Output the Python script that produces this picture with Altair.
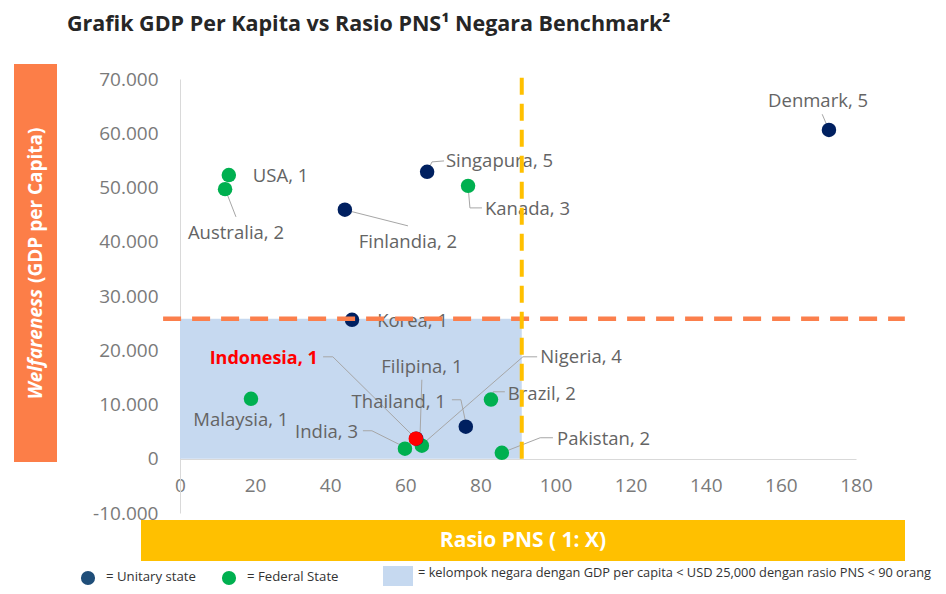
import altair as alt
import pandas as pd

# ---------------- data ----------------
countries = ["Denmark", "Singapura", "Kanada", "USA", "Australia", "Finlandia", "Korea",
             "Malaysia", "Brazil", "Thailand", "Pakistan", "India", "Nigeria", "Filipina", "Indonesia"]
rasio_pns = [172.8, 65.8, 76.7, 13.0, 12.0, 43.9, 45.8, 18.9, 82.8, 76.1, 85.7, 59.9, 64.4, 62.9, 62.8]
gdp_per_capita = [60600, 52900, 50300, 52300, 49700, 45900, 25600, 11050, 10900, 5900, 1100,
                  1850, 2400, 3700, 3700]
state_type = ["Unitary", "Unitary", "Federal", "Federal", "Federal", "Unitary", "Unitary",
              "Federal", "Federal", "Unitary", "Federal", "Federal", "Federal", "Unitary", "Unitary"]
group_no = [5, 5, 3, 1, 2, 2, 1, 1, 2, 1, 2, 3, 4, 1, 1]

# label anchor positions (data units) and alignment
label_x = [169.9, 70.8, 81.2, 19.4, 14.9, 60.7, 52.5, 16.2, 87.3, 70.8, 100.4, 47.4, 95.9, 64.4, 36.7]
label_y = [65960, 54900, 46060, 52140, 41640, 39980, 25430, 7190, 11980, 10500, 3685, 4975,
           18790, 16950, 18425]
label_align = ["center", "left", "left", "left", "center", "center", "left", "center", "left",
               "right", "left", "right", "left", "center", "right"]

# leader lines (data units)
leader_name = ["Denmark", "Denmark",
               "Singapura", "Singapura", "Singapura",
               "Kanada", "Kanada", "Kanada",
               "Australia", "Australia",
               "Finlandia", "Finlandia",
               "Indonesia", "Indonesia", "Indonesia",
               "Filipina", "Filipina",
               "Nigeria", "Nigeria", "Nigeria",
               "Thailand", "Thailand", "Thailand",
               "Brazil", "Brazil", "Brazil",
               "India", "India", "India",
               "Pakistan", "Pakistan", "Pakistan"]
leader_x = [171.0, 172.6,
            65.8, 67.1, 70.3,
            76.7, 77.2, 80.4,
            12.0, 14.9,
            43.9, 60.7,
            38.1, 40.7, 62.8,
            64.4, 63.9,
            95.1, 91.3, 64.7,
            72.4, 74.8, 76.2,
            86.5, 83.4, 82.8,
            48.7, 51.1, 59.1,
            99.3, 95.9, 85.7]
leader_y = [63500, 60900,
            52880, 54720, 54900,
            50300, 46240, 46240,
            49750, 44590,
            45880, 42930,
            18790, 18790, 3700,
            14560, 3870,
            18790, 18790, 2760,
            10870, 10870, 6265,
            12345, 12345, 10870,
            5160, 5160, 2395,
            3870, 3870, 1105]

x_ticks = [0, 20, 40, 60, 80, 100, 120, 140, 160, 180]
y_ticks = [-10000, 0, 10000, 20000, 30000, 40000, 50000, 60000, 70000]

threshold_gdp = 25800
threshold_pns = 91

title_text = "Grafik GDP Per Kapita vs Rasio PNS\u00b9 Negara Benchmark\u00b2"
y_title_a = "Welfareness"
y_title_b = "(GDP per Capita)"
x_title = "Rasio PNS ( 1: X)"
legend_unitary = "= Unitary state"
legend_federal = "= Federal State"
legend_box = "= kelompok negara dengan GDP per capita < USD 25,000 dengan rasio PNS < 90 orang"

# ---------------- tables ----------------
pts = pd.DataFrame({
    "country": countries, "x": rasio_pns, "y": gdp_per_capita,
    "ckey": ["Indonesia" if c == "Indonesia" else s for c, s in zip(countries, state_type)],
})
labs = pd.DataFrame({
    "label": [f"{c}, {n}" for c, n in zip(countries, group_no)],
    "country": countries, "lx": label_x, "ly": label_y, "align": label_align,
})
seq = []
cnt = {}
for n in leader_name:
    cnt[n] = cnt.get(n, 0) + 1
    seq.append(cnt[n])
leaders = pd.DataFrame({"country": leader_name, "x": leader_x, "y": leader_y, "seq": seq})

zone = pd.DataFrame({"x": [0], "x2": [threshold_pns], "y": [0], "y2": [threshold_gdp]})
hline = pd.DataFrame({"x": [-4.5], "x2": [193], "y": [threshold_gdp]})
vline = pd.DataFrame({"x": [threshold_pns], "y": [0], "y2": [71300]})
one = pd.DataFrame({"a": [0]})

FONT = "Open Sans"
NAVY = "#002060"
GREEN = "#00b050"
RED = "#ff0000"
GRAY = "#646464"

xscale = alt.Scale(domain=[0, 180], nice=False, zero=False)
yscale = alt.Scale(domain=[-10000, 70000], nice=False, zero=False)
xaxis = alt.Axis(values=x_ticks, title=None, grid=False, ticks=False, tickSize=0,
                 labelPadding=26, labelBaseline="middle", labelFont=FONT, labelFontSize=19,
                 labelColor="#7a7a7a", domainColor="#d9d9d9", domainWidth=1, offset=-54,
                 labelFlush=False, labelOverlap=False)
yaxis = alt.Axis(values=y_ticks, title=None, grid=False, ticks=False, tickSize=0,
                 labelPadding=22, labelFont=FONT, labelFontSize=19, labelColor="#7a7a7a",
                 domainColor="#d9d9d9", domainWidth=1, labelFlush=False, labelOverlap=False,
                 labelExpr="replace(replace(format(datum.value, ','), ',', '.'), '\u2212', '-')")


def X(f):
    return alt.X(f"{f}:Q", scale=xscale, axis=xaxis)


def Y(f):
    return alt.Y(f"{f}:Q", scale=yscale, axis=yaxis)


zone_l = alt.Chart(zone).mark_rect(color="#c6d9f0").encode(
    x=X("x"), x2="x2", y=Y("y"), y2="y2")

lead_l = alt.Chart(leaders).mark_line(color="#a6a6a6", strokeWidth=1).encode(
    x=X("x"), y=Y("y"), detail="country:N", order=alt.Order("seq:Q"))

pts_l = alt.Chart(pts).mark_circle(size=210, opacity=1).encode(
    x=X("x"), y=Y("y"),
    color=alt.Color("ckey:N", scale=alt.Scale(domain=["Unitary", "Federal", "Indonesia"],
                                              range=[NAVY, GREEN, RED]), legend=None))


def label_layer(align, cond, **kw):
    return alt.Chart(labs).transform_filter(cond).mark_text(
        align=align, baseline="middle", font=FONT, fontSize=kw.get("size", 18.5),
        fontWeight=kw.get("weight", "normal"), color=kw.get("color", GRAY)).encode(
        x=X("lx"), y=Y("ly"), text="label:N")


lab_left = label_layer("left", "datum.align == 'left' && datum.country != 'Indonesia'")
lab_center = label_layer("center", "datum.align == 'center' && datum.country != 'Indonesia'")
lab_right = label_layer("right", "datum.align == 'right' && datum.country != 'Indonesia'")
lab_indo = label_layer("right", "datum.country == 'Indonesia'", weight="bold", color=RED, size=18)

hline_l = alt.Chart(hline).mark_rule(color="#fb7f4c", strokeWidth=4.5, strokeDash=[18, 11]).encode(
    x=X("x"), x2="x2", y=Y("y"))
vline_l = alt.Chart(vline).mark_rule(color="#ffc000", strokeWidth=4, strokeDash=[17, 9]).encode(
    x=X("x"), y=Y("y"), y2="y2")

# ---- decorations (title, axis-title boxes, legend) ----
title_l = alt.Chart(one).mark_text(align="left", baseline="middle", font=FONT, fontSize=21.5,
                                   fontWeight="bold", color="#262626").encode(
    x=alt.value(-113), y=alt.value(-54), text=alt.value(title_text))

ybox = alt.Chart(one).mark_rect(color="#fc7e48").encode(
    x=alt.value(-166), x2=alt.value(-123), y=alt.value(-15), y2=alt.value(383))
ytitle_a = alt.Chart(one).mark_text(angle=270, align="right", baseline="middle", font=FONT,
                                    fontSize=19, fontWeight="bold", fontStyle="italic",
                                    color="white").encode(
    x=alt.value(-144), y=alt.value(210), text=alt.value(y_title_a))
ytitle_b = alt.Chart(one).mark_text(angle=270, align="left", baseline="middle", font=FONT,
                                    fontSize=19, fontWeight="bold", color="white").encode(
    x=alt.value(-144), y=alt.value(204), text=alt.value(y_title_b))

xbox = alt.Chart(one).mark_rect(color="#ffc000").encode(
    x=alt.value(-39), x2=alt.value(725), y=alt.value(441), y2=alt.value(482))
xtitle = alt.Chart(one).mark_text(align="center", baseline="middle", font=FONT, fontSize=21,
                                  fontWeight="bold", color="white").encode(
    x=alt.value(343), y=alt.value(462), text=alt.value(x_title))

leg_navy = alt.Chart(one).mark_circle(size=200, opacity=1, color="#1f4e79").encode(
    x=alt.value(-92), y=alt.value(499))
leg_green = alt.Chart(one).mark_circle(size=200, opacity=1, color=GREEN).encode(
    x=alt.value(49), y=alt.value(499))
leg_t1 = alt.Chart(one).mark_text(align="left", baseline="middle", font=FONT, fontSize=13.2,
                                  color="#333333").encode(
    x=alt.value(-74), y=alt.value(498), text=alt.value(legend_unitary))
leg_t2 = alt.Chart(one).mark_text(align="left", baseline="middle", font=FONT, fontSize=13.2,
                                  color="#333333").encode(
    x=alt.value(67), y=alt.value(498), text=alt.value(legend_federal))
leg_box = alt.Chart(one).mark_rect(color="#c6d9f0").encode(
    x=alt.value(203), x2=alt.value(233), y=alt.value(487), y2=alt.value(507))
leg_t3 = alt.Chart(one).mark_text(align="left", baseline="middle", font=FONT, fontSize=12.8,
                                  color="#333333").encode(
    x=alt.value(238), y=alt.value(494), text=alt.value(legend_box))

chart = alt.layer(
    zone_l, lead_l, pts_l, lab_left, lab_center, lab_right, lab_indo, hline_l, vline_l,
    title_l, ybox, ytitle_a, ytitle_b, xbox, xtitle,
    leg_navy, leg_green, leg_t1, leg_t2, leg_box, leg_t3,
).properties(
    width=676, height=434,
    autosize=alt.AutoSizeParams(type="none"),
    padding={"left": 172, "top": 71, "right": 82, "bottom": 73},
    background="white",
).configure_view(stroke=None)

chart.save("out.html", embed_options={"renderer": "svg", "actions": False})
